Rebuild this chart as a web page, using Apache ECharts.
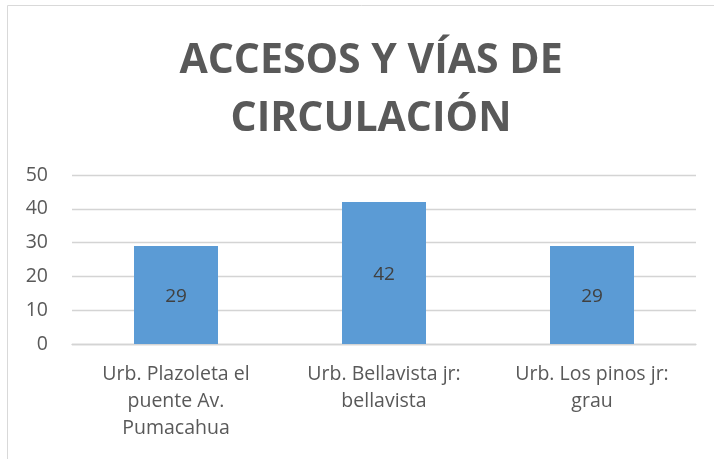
<!DOCTYPE html>
<html>
<head>
<meta charset="utf-8">
<script src="https://cdn.jsdelivr.net/npm/echarts@6/dist/echarts.min.js"></script>
<style>
  html, body { margin: 0; padding: 0; background: #fff; }
  #chart { width: 714px; height: 459px; }
</style>
</head>
<body>
<div id="chart"></div>
<script>
const titleText = "ACCESOS Y VÍAS DE\nCIRCULACIÓN";
const categories = [
  "Urb. Plazoleta el\npuente Av.\nPumacahua",
  "Urb. Bellavista jr:\nbellavista",
  "Urb. Los pinos jr:\ngrau",
];
const values = [29, 42, 29];
const yTicks = { min: 0, max: 50, interval: 10 };

const chart = echarts.init(document.getElementById("chart"));

const option = {
  animation: false,
  graphic: [
    {
      type: "rect",
      shape: { x: 7.5, y: 5.5, width: 740, height: 480 },
      style: { fill: "none", stroke: "#d9d9d9", lineWidth: 1 },
      silent: true,
    },
  ],
  title: {
    text: titleText,
    left: 366,
    top: 27,
    textAlign: "center",
    textStyle: {
      fontFamily: "Open Sans",
      fontWeight: "bold",
      fontSize: 41,
      lineHeight: 58,
      color: "#595959",
    },
  },
  grid: {
    left: 72,
    right: 18,
    top: 175,
    bottom: 115,
  },
  xAxis: {
    type: "category",
    data: categories,
    axisLine: { show: true, lineStyle: { color: "#d4d4d4", width: 1.3 } },
    axisTick: { show: false },
    axisLabel: {
      fontFamily: "Open Sans",
      fontSize: 19.5,
      lineHeight: 27,
      color: "#595959",
      margin: 17,
      interval: 0,
    },
  },
  yAxis: {
    type: "value",
    min: yTicks.min,
    max: yTicks.max,
    interval: yTicks.interval,
    axisLine: { show: false },
    axisTick: { show: false },
    splitLine: { lineStyle: { color: "#d4d4d4", width: 1.3 } },
    axisLabel: {
      fontFamily: "Open Sans",
      fontSize: 19.5,
      color: "#595959",
      margin: 24,
    },
  },
  series: [
    {
      type: "bar",
      data: values,
      barWidth: 84,
      itemStyle: { color: "#5b9bd5" },
      label: {
        show: true,
        position: "inside",
        fontFamily: "Open Sans",
        fontSize: 19,
        color: "#404040",
        offset: [0, 2],
      },
    },
  ],
};

chart.setOption(option);
</script>
</body>
</html>
